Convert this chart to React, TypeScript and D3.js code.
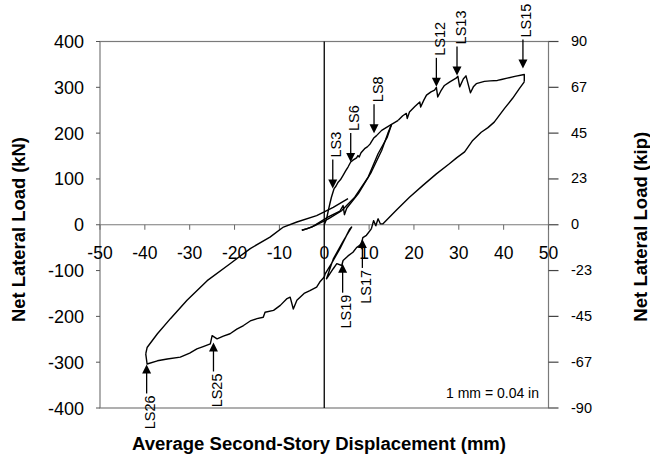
import React, { useEffect, useRef } from "react";
import * as d3 from "d3";

// axis ticks ------------------------------------------------
const xTicks = [-50, -40, -30, -20, -10, 0, 10, 20, 30, 40, 50];
const kNTicks = [-400, -300, -200, -100, 0, 100, 200, 300, 400];
const kipLabels = ["-90", "-67", "-45", "-23", "0", "23", "45", "67", "90"];

// hysteresis curve, [displacement mm, load kN]
const envelopeToLS8 = [
    [0, 0], [0.5, 12], [0.9, 31], [1.3, 48], [1.6, 60], [2.2, 79], [2.6, 84], [3.1, 93],
    [3.6, 98], [4.2, 108], [4.8, 118], [5.3, 126], [5.9, 137], [6.4, 141], [7.2, 146],
    [7.5, 151], [7.8, 148], [8.2, 157], [9, 166], [9.6, 170], [10.2, 176], [10.5, 181],
    [11.1, 190], [11.6, 194], [12.2, 200], [12.8, 206], [13.8, 212], [15, 219]
];
const unloadLS8 = [
    [15, 219], [14, 190], [12, 155], [9.8, 104], [6.8, 60], [3.9, 31], [0.9, 13],
    [-2.1, -2], [-3.9, -9], [-5, -12]
];
const reloadLS8 = [
    [-5, -12], [-2.8, -5], [0.9, 17], [3.5, 30], [4.2, 42], [4.5, 22], [5, 36],
    [7.6, 68], [10.5, 115], [12.8, 162], [14.2, 200], [15, 219], [16.5, 228]
];
const positiveEnvelope = [
    [16.5, 228], [17.5, 238], [18.3, 243], [18.5, 232], [19, 246], [20.2, 258], [21.3, 268],
    [21.5, 257], [22.2, 272], [22.8, 283], [23.8, 290], [24.6, 294], [25, 300], [25.3, 279],
    [26, 292], [26.8, 304], [28, 312], [29.4, 320], [29.8, 324], [30.2, 301], [31, 318],
    [31.6, 325], [32.6, 288], [33.3, 302], [33.9, 308], [35.7, 313], [37, 314], [38.6, 315],
    [39.5, 317], [40.8, 320], [42.5, 324], [44.6, 328], [44.6, 312]
];
const positiveUnload = [
    [44.6, 312], [43.5, 297], [42, 276], [40.2, 254], [37.9, 224], [36.5, 212], [35, 202],
    [33.1, 184], [31.3, 159], [29.5, 146], [27.9, 133], [25, 111], [22, 86], [19, 60],
    [16, 31], [13.1, 2], [12.5, 2], [12, 13], [11.5, -2], [11, 9], [10.5, -9]
];
const smallNegative = [
    [10.5, -9], [9.4, -23], [8.6, -28], [8.3, -42], [7.2, -50], [6.4, -60], [5.3, -68],
    [4.2, -78], [3.9, -89], [2.8, -85], [2, -96], [1.2, -108], [0.5, -118], [2, -75],
    [4.2, -36], [6.1, -5], [5.7, -9], [3.5, -52], [1.6, -85], [0.2, -107], [0, -114]
];
const negativeEnvelope = [
    [0, -114], [-1, -125], [-1.7, -136], [-3.2, -144], [-4.5, -150], [-6.1, -165],
    [-6.9, -184], [-7.6, -158], [-8.4, -162], [-9.8, -176], [-11.3, -187], [-13.2, -191],
    [-13.6, -202], [-15, -205], [-16.5, -210], [-18, -220], [-19.5, -228], [-21, -238],
    [-22.5, -243], [-23.9, -249], [-25, -242], [-25.4, -260], [-27, -266], [-28.4, -271],
    [-30, -280], [-32.1, -289], [-35, -293], [-37.2, -297], [-39.5, -304], [-39.8, -282]
];
const negativeUnload = [
    [-39.8, -282], [-39.5, -268], [-37.2, -238], [-34.3, -205], [-30.6, -165], [-26.1, -122],
    [-21, -85], [-16.5, -52], [-12.1, -27], [-9.1, -5], [-6.1, 6], [-1.7, 20], [0, 28],
    [2, 38], [5.3, 57]
];

// load stage markers
const stageLabels = ["LS3", "LS6", "LS8", "LS12", "LS13", "LS15", "LS17", "LS19", "LS25", "LS26"];
const stageDisp = [1.9, 5.9, 11.1, 25.0, 29.6, 44.3, 8.5, 4.1, -24.7, -39.6];
const stageLoad = [79, 137, 200, 301, 326, 341, -31, -85, -257, -305];

const App = () => {
    const ref = useRef<SVGSVGElement>(null);
    const [width, height] = [650, 462];
    const font = "'Liberation Sans', Arial, sans-serif";

    useEffect(() => {
        draw();
    }, []);

    function draw() {
        const svg = d3.select(ref.current);
        svg.selectAll("*").remove();

        const x = d3.scaleLinear().domain([-50, 50]).range([100, 548.5]);
        const y = d3.scaleLinear().domain([-400, 400]).range([408, 41.5]);

        // plot frame
        svg.append("rect")
            .attr("x", x(-50)).attr("y", y(400))
            .attr("width", x(50) - x(-50)).attr("height", y(-400) - y(400))
            .attr("fill", "none").attr("stroke", "#7a7a7a").attr("stroke-width", 1.2);

        // left axis ticks + labels
        kNTicks.forEach((t) => {
            svg.append("line")
                .attr("x1", x(-50) - 4).attr("x2", x(-50))
                .attr("y1", y(t)).attr("y2", y(t))
                .attr("stroke", "#555");
            svg.append("text")
                .attr("x", 84).attr("y", y(t) + 6.5)
                .attr("text-anchor", "end")
                .style("font-family", font).style("font-size", "18px")
                .text(t);
        });

        // right axis (kip)
        kNTicks.forEach((t, i) => {
            svg.append("line")
                .attr("x1", x(50)).attr("x2", x(50) + 10)
                .attr("y1", y(t)).attr("y2", y(t))
                .attr("stroke", "#444").attr("stroke-width", 1.2);
            svg.append("text")
                .attr("x", 571).attr("y", y(t) + 4.5)
                .style("font-family", font).style("font-size", "14.5px")
                .text(kipLabels[i]);
        });

        // x axis along zero load
        svg.append("line")
            .attr("x1", x(-50)).attr("x2", x(50))
            .attr("y1", y(0)).attr("y2", y(0))
            .attr("stroke", "#7a7a7a").attr("stroke-width", 1.2);
        xTicks.forEach((t) => {
            svg.append("line")
                .attr("x1", x(t)).attr("x2", x(t))
                .attr("y1", y(0)).attr("y2", y(0) + 5)
                .attr("stroke", "#666");
            svg.append("text")
                .attr("x", x(t)).attr("y", 258.5)
                .attr("text-anchor", "middle")
                .style("font-family", font).style("font-size", "17.5px")
                .text(t);
        });

        // zero displacement line
        svg.append("line")
            .attr("x1", x(0)).attr("x2", x(0))
            .attr("y1", y(400)).attr("y2", y(-400))
            .attr("stroke", "#000").attr("stroke-width", 1.3);

        // hysteresis curve
        const line = d3.line<number[]>()
            .x((d) => x(d[0]))
            .y((d) => y(d[1]));
        const segments = [envelopeToLS8, unloadLS8, reloadLS8, positiveEnvelope,
            positiveUnload, smallNegative, negativeEnvelope, negativeUnload];
        segments.forEach((seg) => {
            svg.append("path")
                .datum(seg)
                .attr("d", line)
                .style("fill", "none")
                .style("stroke", "#000")
                .style("stroke-width", 1.4)
                .style("stroke-linejoin", "round");
        });

        // load stage arrows
        const len = 29;
        stageLabels.forEach((label, i) => {
            const tx = x(stageDisp[i]);
            const ty = y(stageLoad[i]);
            const down = stageLoad[i] > 0;
            const s = down ? -1 : 1;
            svg.append("line")
                .attr("x1", tx).attr("x2", tx)
                .attr("y1", ty + s * 8).attr("y2", ty + s * len)
                .attr("stroke", "#000").attr("stroke-width", 1.3);
            svg.append("path")
                .attr("d", `M${tx},${ty} L${tx - 4.5},${ty + s * 9} L${tx + 4.5},${ty + s * 9} Z`)
                .attr("fill", "#000");
            svg.append("text")
                .attr("transform", `translate(${tx + 8.5},${ty + s * (len + 2)}) rotate(-90)`)
                .attr("text-anchor", down ? "start" : "end")
                .style("font-family", font).style("font-size", "14.5px")
                .text(label);
        });

        // conversion note
        svg.append("text")
            .attr("x", 539).attr("y", 398)
            .attr("text-anchor", "end")
            .style("font-family", font).style("font-size", "14px")
            .text("1 mm = 0.04 in");

        // axis titles
        svg.append("text")
            .attr("x", 319).attr("y", 450)
            .attr("text-anchor", "middle")
            .attr("textLength", 374).attr("lengthAdjust", "spacingAndGlyphs")
            .style("font-family", font).style("font-size", "17.5px").style("font-weight", "bold")
            .text("Average Second-Story Displacement (mm)");
        svg.append("text")
            .attr("transform", "translate(25,229.5) rotate(-90)")
            .attr("text-anchor", "middle")
            .attr("textLength", 185).attr("lengthAdjust", "spacingAndGlyphs")
            .style("font-family", font).style("font-size", "17.5px").style("font-weight", "bold")
            .text("Net Lateral Load (kN)");
        svg.append("text")
            .attr("transform", "translate(646.5,226.7) rotate(-90)")
            .attr("text-anchor", "middle")
            .attr("textLength", 190).attr("lengthAdjust", "spacingAndGlyphs")
            .style("font-family", font).style("font-size", "17.5px").style("font-weight", "bold")
            .text("Net Lateral Load (kip)");
    }

    return (
        <svg ref={ref} width={width} height={height}
            style={{ position: "absolute", left: 0, top: 0, background: "#fff" }} />
    );
};

export default App;
